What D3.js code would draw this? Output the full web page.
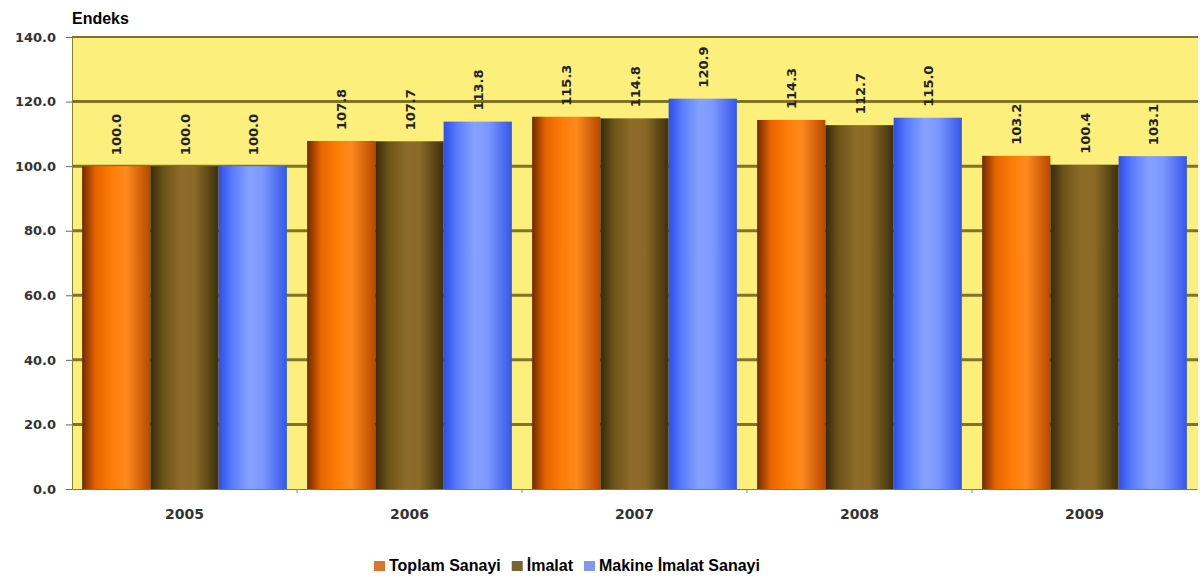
<!DOCTYPE html>
<html><head><meta charset="utf-8">
<script src="https://cdn.jsdelivr.net/npm/d3@7"></script>
<style>body{margin:0;background:#fff;}svg{display:block;font-family:Arial,"Liberation Sans",Helvetica,sans-serif;}</style>
</head><body>
<svg id="c" width="1200" height="581"></svg>
<script>
const categories = ["2005","2006","2007","2008","2009"];
const seriesNames = ["Toplam Sanayi","İmalat","Makine İmalat Sanayi"];
const toplam = [100.0,107.8,115.3,114.3,103.2];
const imalat = [100.0,107.7,114.8,112.7,100.4];
const makine = [100.0,113.8,120.9,115.0,103.1];
const yTicks = [0,20,40,60,80,100,120,140];

const seriesValues = [toplam, imalat, makine];
const colors = [
  {stops:["#6e2a00","#e86400","#ff7d08","#ff8a1c","#b84800"], legend:"#d9752e"},
  {stops:["#362a0a","#6e5418","#8c6c28","#8a6a26","#3e300c"], legend:"#7a6434"},
  {stops:["#2e4ee6","#5a7cff","#86a2ff","#7c98ff","#3556e8"], legend:"#8298ee"}
];
const wideFont = "'DejaVu Sans', Verdana, sans-serif";

const svg = d3.select("#c");
const m = {l:72, r:1197, t:37, b:489};
const x0 = d3.scaleBand().domain(categories).range([m.l, m.r]).paddingInner(0.09).paddingOuter(0.045);
const x1 = d3.scaleBand().domain(d3.range(3)).range([0, x0.bandwidth()]).padding(0);
const y = d3.scaleLinear().domain([0,140]).range([m.b, m.t]);

const defs = svg.append("defs");
const offs = [0,0.2,0.45,0.65,1];
colors.forEach((c,i)=>{
  const g = defs.append("linearGradient").attr("id","g"+i).attr("x1","0").attr("x2","1").attr("y1","0").attr("y2","0");
  c.stops.forEach((s,k)=>g.append("stop").attr("offset",offs[k]).attr("stop-color",s));
});

// plot background
svg.append("rect").attr("x",m.l).attr("y",m.t).attr("width",m.r-m.l+1).attr("height",m.b-m.t).attr("fill","#fcef7c");

// gridlines
svg.append("g").selectAll("line").data(yTicks.filter(d=>d>0)).join("line")
  .attr("x1",m.l).attr("x2",m.r+1).attr("y1",d=>y(d)).attr("y2",d=>y(d))
  .attr("stroke","#7f7424").attr("stroke-width",d=>d===140?2:3);

// y axis
const yAxis = d3.axisLeft(y).tickValues(yTicks).tickFormat(d3.format(".1f")).tickSize(6).tickPadding(10);
const ya = svg.append("g").attr("transform",`translate(${m.l},0)`).call(yAxis);
ya.select(".domain").attr("stroke","#8a8030").attr("stroke-width",1);
ya.selectAll(".tick line").attr("stroke","#666");
ya.selectAll("text").attr("font-family",wideFont).attr("font-size",13).attr("font-weight","bold").attr("fill","#333");

// x axis
const xa = svg.append("g").attr("transform",`translate(0,${m.b})`)
  .call(d3.axisBottom(x0).tickSize(0).tickPadding(20));
xa.select(".domain").attr("stroke","#777").attr("stroke-width",1);
xa.selectAll("text").attr("font-family",wideFont).attr("font-size",14).attr("font-weight","bold").attr("fill","#333");
// category separators ticks
svg.append("g").selectAll("line").data(categories.slice(1)).join("line")
  .attr("x1",d=>x0(d)-x0.step()*x0.paddingInner()/2).attr("x2",d=>x0(d)-x0.step()*x0.paddingInner()/2)
  .attr("y1",m.b).attr("y2",m.b+4).attr("stroke","#888");

// bars
const groups = svg.append("g").selectAll("g").data(categories).join("g")
  .attr("transform",d=>`translate(${x0(d)},0)`);
groups.selectAll("rect").data((d,ci)=>seriesValues.map((s,si)=>({si, v:s[ci]}))).join("rect")
  .attr("x",d=>x1(d.si)).attr("width",x1.bandwidth())
  .attr("y",d=>y(d.v)).attr("height",d=>y(0)-y(d.v))
  .attr("fill",d=>`url(#g${d.si})`);
groups.selectAll("text").data((d,ci)=>seriesValues.map((s,si)=>({si, v:s[ci]}))).join("text")
  .attr("transform",d=>`translate(${x1(d.si)+x1.bandwidth()/2+5},${y(d.v)-11}) rotate(-90)`)
  .attr("font-family",wideFont).attr("font-size",13).attr("font-weight","bold").attr("fill","#222")
  .text(d=>d3.format(".1f")(d.v));

// title
svg.append("text").attr("x",72).attr("y",24).attr("font-size",16).attr("font-weight","bold").attr("fill","#000").text("Endeks");

// legend
const lg = svg.append("g").attr("transform","translate(0,571)");
let lx = 374;
const items = lg.selectAll("g").data(seriesNames).join("g");
items.each(function(name,i){
  const g = d3.select(this);
  g.append("rect").attr("x",lx).attr("y",-10).attr("width",11).attr("height",10).attr("fill",colors[i].legend);
  const t = g.append("text").attr("x",lx+15).attr("y",0).attr("font-size",16).attr("font-weight","bold").attr("fill","#000").text(name);
  lx += 15 + t.node().getComputedTextLength() + 11;
});
</script>
</body></html>
